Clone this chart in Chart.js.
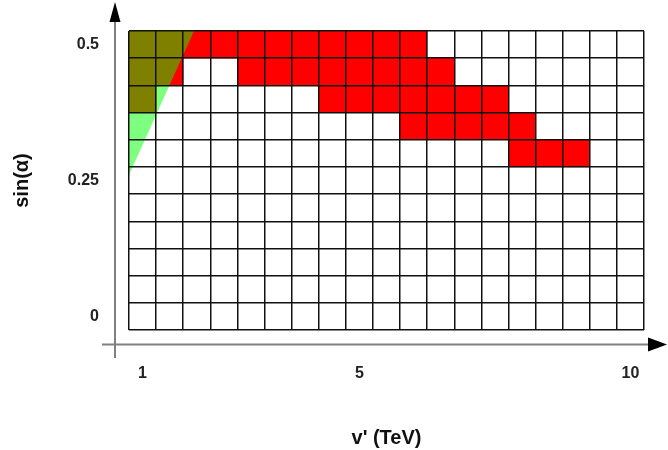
<!DOCTYPE html>
<html>
<head>
<meta charset="utf-8">
<script src="https://cdn.jsdelivr.net/npm/chart.js@4/dist/chart.umd.min.js"></script>
<style>
  html, body { margin: 0; padding: 0; background: #fff; }
  canvas { display: block; }
</style>
</head>
<body>
<canvas id="chart" width="668" height="450"></canvas>
<script>
// grid columns (v' in TeV) and rows (sin alpha)
const vPrime = [1, 1.5, 2, 2.5, 3, 3.5, 4, 4.5, 5, 5.5, 6, 6.5, 7, 7.5, 8, 8.5, 9, 9.5, 10];
const sinAlpha = [0, 0.05, 0.1, 0.15, 0.2, 0.25, 0.3, 0.35, 0.4, 0.45, 0.5];

// red cells per column: lowest and highest sin(alpha) row, null = none
const redLow  = [0.4, 0.45, 0.5, 0.5, 0.45, 0.45, 0.45, 0.4, 0.4, 0.4, 0.35, 0.35, 0.35, 0.35, 0.3, 0.3, 0.3, null, null];
const redHigh = [0.5, 0.5, 0.5, 0.5, 0.5, 0.5, 0.5, 0.5, 0.5, 0.5, 0.5, 0.45, 0.4, 0.4, 0.35, 0.3, 0.3, null, null];

// edge of the green region (filled up to the top)
const greenX = [0.75, 1.95];
const greenY = [0.26, 0.525];

const xTicks = [1, 5, 10];
const xTickLabels = ['1', '5', '10'];
const yTicks = [0, 0.25, 0.5];
const yTickLabels = ['0', '0.25', '0.5'];

const dx = (vPrime[1] - vPrime[0]) / 2;
const dy = (sinAlpha[1] - sinAlpha[0]) / 2;
const xMin = vPrime[0] - dx, xMax = vPrime[vPrime.length - 1] + dx;
const yMin = sinAlpha[0] - dy, yMax = sinAlpha[sinAlpha.length - 1] + dy;
const xEdges = [xMin, ...vPrime.map(v => v + dx)];
const yEdges = [yMin, ...sinAlpha.map(v => v + dy)];

const redCells = [];
vPrime.forEach((v, i) => {
    if (redLow[i] !== null) redCells.push({ x: v, y: [redLow[i] - dy, redHigh[i] + dy] });
});

const tickFont = { family: 'Liberation Sans', size: 16, weight: 'bold' };
const titleFont = { family: 'Liberation Sans', size: 20, weight: 'bold' };

// keep the label axes from adding their own padding round the plot
const noPad = s => { s.paddingTop = s.paddingBottom = s.paddingLeft = s.paddingRight = 0; };

// gray axis lines with arrow heads, offset from the grid
const axisArrows = {
    id: 'axisArrows',
    afterDraw(chart) {
        const { ctx, chartArea: a } = chart;
        const ax = a.left - 14, ay = a.bottom + 14.5;
        ctx.save();
        ctx.strokeStyle = '#808080';
        ctx.lineWidth = 2;
        ctx.beginPath();
        ctx.moveTo(ax, a.bottom + 28); ctx.lineTo(ax, a.top - 12);
        ctx.moveTo(a.left - 27, ay); ctx.lineTo(a.right + 6, ay);
        ctx.stroke();
        ctx.fillStyle = '#000';
        ctx.beginPath();
        ctx.moveTo(ax, a.top - 29); ctx.lineTo(ax - 5.5, a.top - 9); ctx.lineTo(ax + 5.5, a.top - 9);
        ctx.fill();
        ctx.beginPath();
        ctx.moveTo(a.right + 23, ay); ctx.lineTo(a.right + 4, ay - 7); ctx.lineTo(a.right + 4, ay + 7);
        ctx.fill();
        ctx.restore();
    }
};

new Chart(document.getElementById('chart'), {
    type: 'bar',
    data: {
        datasets: [
            {
                type: 'line',
                data: greenX.map((x, i) => ({ x, y: greenY[i] })),
                borderWidth: 0,
                pointRadius: 0,
                backgroundColor: 'rgba(0, 255, 0, 0.5)',
                fill: 'end',
                order: 0
            },
            {
                data: redCells,
                backgroundColor: '#ff0000',
                borderWidth: 0,
                barPercentage: 1,
                categoryPercentage: 1,
                order: 1
            }
        ]
    },
    options: {
        responsive: false,
        animation: false,
        layout: { autoPadding: false, padding: { top: 31, right: 24, left: 0, bottom: 0 } },
        plugins: { legend: { display: false }, tooltip: { enabled: false } },
        scales: {
            x: {
                type: 'linear', min: xMin, max: xMax, offset: false,
                afterBuildTicks: s => { s.ticks = xEdges.map(v => ({ value: v })); },
                afterFit: s => { s.height = 0; noPad(s); },
                ticks: { display: false, autoSkip: false },
                grid: { offset: false, color: '#111', lineWidth: 1.5, drawTicks: false, z: 1 },
                border: { display: false }
            },
            y: {
                type: 'linear', min: yMin, max: yMax,
                afterBuildTicks: s => { s.ticks = yEdges.map(v => ({ value: v })); },
                afterFit: s => { s.width = 0; noPad(s); },
                ticks: { display: false, autoSkip: false },
                grid: { color: '#111', lineWidth: 1.5, drawTicks: false, z: 1 },
                border: { display: false }
            },
            xl: {
                type: 'linear', position: 'bottom', min: xMin, max: xMax, offset: false,
                afterBuildTicks: s => { s.ticks = xTicks.map(v => ({ value: v })); },
                afterFit: s => { s.height = 120; noPad(s); },
                ticks: {
                    font: tickFont, color: '#222', padding: 34, maxRotation: 0, autoSkip: false,
                    callback: (v, i) => xTickLabels[i]
                },
                grid: { display: false, offset: false, drawTicks: false },
                border: { display: false },
                title: { display: true, text: "v' (TeV)", font: titleFont, color: '#111', padding: { top: 0, bottom: 0 } }
            },
            yl: {
                type: 'linear', position: 'left', min: yMin, max: yMax,
                afterBuildTicks: s => { s.ticks = yTicks.map(v => ({ value: v })); },
                afterFit: s => { s.width = 129; noPad(s); },
                ticks: {
                    font: tickFont, color: '#222', padding: 30, autoSkip: false,
                    callback: (v, i) => yTickLabels[i]
                },
                grid: { display: false, drawTicks: false },
                border: { display: false },
                title: { display: true, text: 'sin(α)', font: titleFont, color: '#111', padding: { top: 10, bottom: 0 } }
            }
        }
    },
    plugins: [axisArrows]
});
</script>
</body>
</html>
